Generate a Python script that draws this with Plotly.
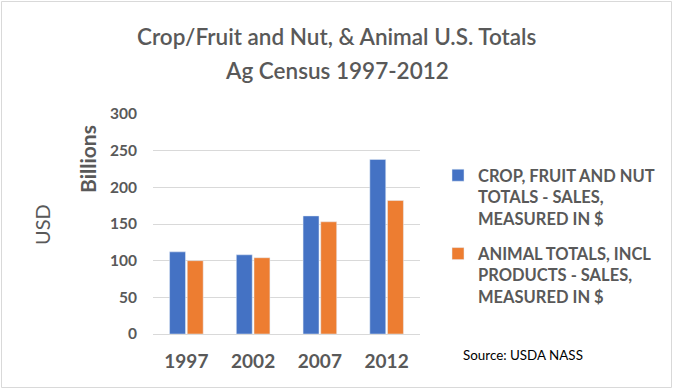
import plotly.graph_objects as go

years = ["1997", "2002", "2007", "2012"]
crop_values = [112, 108, 161, 238]
animal_values = [100, 104, 153, 182]
series_names = [
    "CROP, FRUIT AND NUT<br>TOTALS - SALES,<br>MEASURED IN $",
    "ANIMAL TOTALS, INCL<br>PRODUCTS - SALES,<br>MEASURED IN $",
]
title_lines = ["Crop/Fruit and Nut, & Animal U.S. Totals", "Ag Census 1997-2012"]
y_ticks = [0, 50, 100, 150, 200, 250, 300]

FONT = "Lato"
GRAY = "#595959"

fig = go.Figure()
fig.add_trace(go.Bar(x=years, y=crop_values, name=series_names[0],
                     marker_color="#4472C4", legendgroup="a"))
fig.add_trace(go.Bar(x=years, y=animal_values, name=series_names[1],
                     marker_color="#ED7D31", legendgroup="b"))

W, H = 673, 389
L, R, T, B = 153, 253, 114, 55
pw, ph = W - L - R, H - T - B

def px(x):
    return (x - L) / pw

def py(y):
    return (H - B - y) / ph

fig.update_layout(
    width=W, height=H,
    margin=dict(l=L, r=R, t=T, b=B),
    paper_bgcolor="white", plot_bgcolor="white",
    barmode="group", bargap=0.47, bargroupgap=0.1,
    font=dict(family=FONT, color=GRAY),
    showlegend=True,
    legend=dict(
        x=px(438), y=py(158), xanchor="left", yanchor="top",
        font=dict(family=FONT, size=16.5, color=GRAY, weight="bold"),
        valign="top", tracegroupgap=11, bgcolor="rgba(0,0,0,0)",
    ),
    xaxis=dict(
        showgrid=False, showline=False, ticks="",
        tickfont=dict(family=FONT, size=19, color=GRAY, weight="bold"),
        ticklabelstandoff=14,
    ),
    yaxis=dict(
        range=[0, 300], tickvals=y_ticks,
        showgrid=True, gridcolor="#d9d9d9", gridwidth=1,
        zeroline=True, zerolinecolor="#d9d9d9", zerolinewidth=1,
        showline=False, ticks="",
        tickfont=dict(family=FONT, size=15.5, color=GRAY, weight="bold"),
        ticklabelstandoff=15,
    ),
)

for line, yc in zip(title_lines, [36, 70]):
    fig.add_annotation(
        text=line, x=px(W / 2), y=py(yc), xref="paper", yref="paper",
        showarrow=False, xanchor="center", yanchor="middle",
        font=dict(family=FONT, size=22.5, color=GRAY, weight=600),
    )

fig.add_annotation(
    text="Billions", x=px(87), y=py(159), xref="paper", yref="paper",
    showarrow=False, textangle=-90, xanchor="center", yanchor="middle",
    font=dict(family=FONT, size=21, color=GRAY, weight="bold"),
)
fig.add_annotation(
    text="USD", x=px(42), y=py(225), xref="paper", yref="paper",
    showarrow=False, textangle=-90, xanchor="center", yanchor="middle",
    font=dict(family=FONT, size=20, color=GRAY),
)
fig.add_annotation(
    text="Source: USDA NASS", x=px(461), y=py(355), xref="paper", yref="paper",
    showarrow=False, xanchor="left", yanchor="middle",
    font=dict(family=FONT, size=13.4, color="#000000"),
)
fig.add_shape(
    type="rect", xref="paper", yref="paper",
    x0=px(1.5), x1=px(W - 1.5), y0=py(H - 1.5), y1=py(1.5),
    line=dict(color="#d9d9d9", width=1), fillcolor="rgba(0,0,0,0)", layer="below",
)

fig.write_html("out.html", config={"displayModeBar": False},
               post_script="document.body.style.margin='0';")
